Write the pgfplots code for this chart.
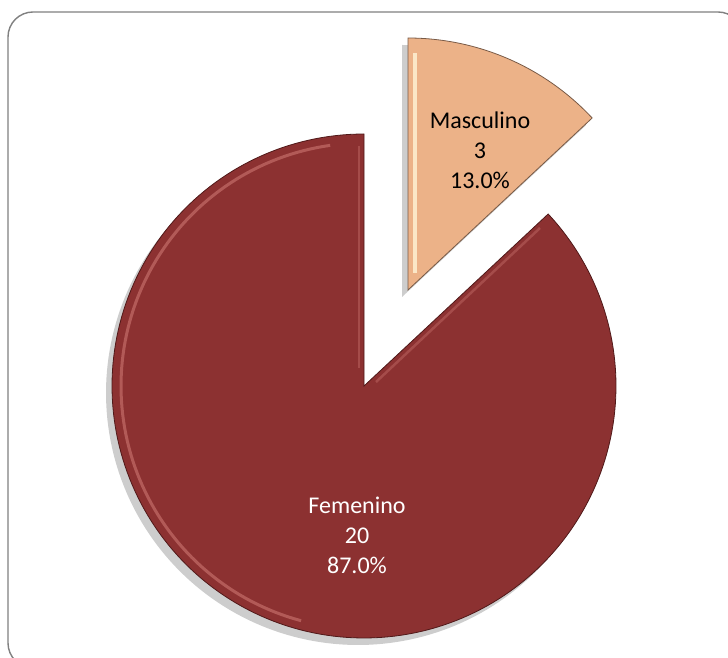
\documentclass[border=0pt]{standalone}
\usepackage{pgfplots}
\pgfplotsset{compat=1.18}
\usepackage{pgfplotstable}
\usepackage{fontspec}
\setmainfont{Carlito}
\definecolor{fem}{RGB}{140,49,49}
\definecolor{femdark}{RGB}{80,25,25}
\definecolor{femhi}{RGB}{225,140,135}
\definecolor{masc}{RGB}{236,178,136}
\definecolor{mascdark}{RGB}{120,90,70}
\definecolor{maschi}{RGB}{255,245,215}
\definecolor{shadowc}{RGB}{205,205,205}
\definecolor{framec}{RGB}{128,128,128}

\pgfplotstableread{
label      value
Femenino   20
Masculino  3
}\piedata

\begin{document}
\begin{tikzpicture}
\pgfplotstablegetelem{0}{value}\of\piedata \let\vF\pgfplotsretval
\pgfplotstablegetelem{1}{value}\of\piedata \let\vM\pgfplotsretval
\pgfmathsetmacro\tot{\vF+\vM}
\pgfmathsetmacro\angM{360*\vM/\tot}
\pgfmathsetmacro\mEnd{90}
\pgfmathsetmacro\mStart{90-\angM}
\pgfmathsetmacro\fStart{90}
\pgfmathsetmacro\fEnd{90+360-\angM}
\pgfmathsetmacro\pF{100*\vF/\tot}
\pgfmathsetmacro\pM{100*\vM/\tot}
\begin{axis}[
  x=1pt, y=1pt,
  xmin=0, xmax=728, ymin=0, ymax=658,
  hide axis, scale only axis,
  clip=true,
]
% frame
\draw[framec, line width=1.4pt, rounded corners=25pt] (8,646) -- (743,646) -- (743,-10) -- (8,-10) -- cycle;
% shadows
\addplot[draw=none, fill=shadowc, domain=\fStart:\fEnd, samples=200, variable=\t]
  ({358+252*cos(t)}, {265+252*sin(t)}) -- (358,265) -- cycle;
\addplot[draw=none, fill=shadowc, domain=\mStart:\mEnd, samples=60, variable=\t]
  ({402+252*cos(t)}, {361+252*sin(t)}) -- (402,361) -- cycle;
% Femenino wedge
\addplot[draw=femdark, line width=0.8pt, fill=fem, domain=\fStart:\fEnd, samples=200, variable=\t]
  ({364+252*cos(t)}, {272+252*sin(t)}) -- (364,272) -- cycle;
\addplot[draw=femhi, line width=3pt, opacity=0.45, domain=98:255, samples=100, variable=\t]
  ({364+243*cos(t)}, {272+243*sin(t)});
\addplot[draw=femhi, line width=2.5pt, opacity=0.3]
  coordinates {(359,290) (359,512)};
\addplot[draw=femhi, line width=2.5pt, opacity=0.3]
  coordinates {(376,276) (540,430)};
% Masculino wedge
\addplot[draw=mascdark, line width=0.8pt, fill=masc, domain=\mStart:\mEnd, samples=60, variable=\t]
  ({408+252*cos(t)}, {368+252*sin(t)}) -- (408,368) -- cycle;
\addplot[draw=maschi, line width=4pt, opacity=0.8]
  coordinates {(415,385) (415,605)};
% labels
\node[align=center, font=\fontsize{24}{30}\selectfont, text=black] at (480,508)
  {Masculino\\\vM\\\pgfmathprintnumber[fixed,fixed zerofill,precision=1,assume math mode=true]{\pM}\%};
\node[align=center, font=\fontsize{24}{30}\selectfont, text=white] at (357,123)
  {Femenino\\\vF\\\pgfmathprintnumber[fixed,fixed zerofill,precision=1,assume math mode=true]{\pF}\%};
\end{axis}
\pgfresetboundingbox
\useasboundingbox (current axis.south west) rectangle (current axis.north east);
\end{tikzpicture}
\end{document}
